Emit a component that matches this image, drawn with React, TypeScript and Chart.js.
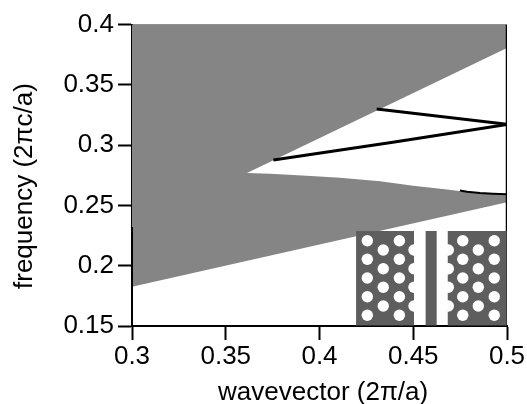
import React, { useEffect, useRef } from "react";
import { Chart, registerables } from "chart.js";

Chart.register(...registerables);

const xTicks = [0.3, 0.35, 0.4, 0.45, 0.5];
const yTicks = [0.15, 0.2, 0.25, 0.3, 0.35, 0.4];

const bandRegion = [
  { x: 0.3, y: 0.4 }, { x: 0.5, y: 0.4 }, { x: 0.5, y: 0.3805 },
  { x: 0.3613, y: 0.2769 }, { x: 0.3736, y: 0.2763 }, { x: 0.3932, y: 0.2746 },
  { x: 0.4109, y: 0.273 }, { x: 0.4323, y: 0.2701 }, { x: 0.4499, y: 0.2663 },
  { x: 0.468, y: 0.2632 }, { x: 0.4787, y: 0.2611 }, { x: 0.4856, y: 0.2601 },
  { x: 0.4925, y: 0.2596 }, { x: 0.5, y: 0.2592 }, { x: 0.5, y: 0.2526 },
  { x: 0.3, y: 0.1826 },
];

const modeA = [{ x: 0.4305, y: 0.33 }, { x: 0.5, y: 0.3172 }];
const modeB = [{ x: 0.3754, y: 0.2876 }, { x: 0.44, y: 0.3025 }, { x: 0.5, y: 0.3172 }];
const modeC = [{ x: 0.4749, y: 0.2623 }, { x: 0.4787, y: 0.2613 }, { x: 0.4856, y: 0.2603 }, { x: 0.4925, y: 0.2597 }, { x: 0.5, y: 0.2593 }];
const rightEdge = [{ x: 0.5, y: 0.15 }, { x: 0.5, y: 0.4 }];
const leftEdge = [{ x: 0.3, y: 0.15 }, { x: 0.3, y: 0.2321 }];
const topEdge = [{ x: 0.3, y: 0.4 }, { x: 0.5, y: 0.4 }];

const rect = (x0: number, x1: number, y0: number, y1: number) => [
  { x: x0, y: y0 }, { x: x1, y: y0 }, { x: x1, y: y1 }, { x: x0, y: y1 },
];
const insetLeft = rect(0.4195, 0.4504, 0.1505, 0.2288);
const insetBar = rect(0.4566, 0.4625, 0.1505, 0.2288);
const insetRight = rect(0.4684, 0.4998, 0.1505, 0.2288);

const rowsFull = [0.2207, 0.2053, 0.1898, 0.1743, 0.1589];
const rowsOffset = [0.213, 0.1975, 0.1821, 0.1666];
const colsFull = [0.4255, 0.4426, 0.4764, 0.4932];
const colsOffset = [0.434, 0.4504, 0.4687, 0.4847];
const holes = [
  ...colsFull.flatMap((x) => rowsFull.map((y) => ({ x, y }))),
  ...colsOffset.flatMap((x) => rowsOffset.map((y) => ({ x, y }))),
];

const GRAY = "#858585";
const DARK = "#5e5e5e";
const FONT = "'Liberation Sans', Arial, sans-serif";
const SIZE = 26;

const poly = (data: { x: number; y: number }[], color: string, order: number) => ({
  data, order, showLine: true, fill: "shape", backgroundColor: color,
  borderWidth: 0, pointRadius: 0,
});
const line = (data: { x: number; y: number }[], width: number, order: number, color = "#000") => ({
  data, order, showLine: true, fill: false, borderColor: color,
  borderWidth: width, pointRadius: 0,
});

export default function App() {
  const ref = useRef<HTMLCanvasElement>(null);
  useEffect(() => {
    const chart = new Chart(ref.current!, {
      type: "scatter",
      data: {
        datasets: [
          { data: holes, order: 1, backgroundColor: "#fff", borderWidth: 0, pointRadius: 5.7, clip: false },
          poly(insetLeft, DARK, 2),
          poly(insetBar, DARK, 2),
          poly(insetRight, DARK, 2),
          line(rightEdge, 2.5, 3),
          line(leftEdge, 2, 3),
          line(topEdge, 1, 3, "#444"),
          line(modeA, 3, 4),
          line(modeB, 3, 4),
          line(modeC, 2, 4),
          poly(bandRegion, GRAY, 5),
        ] as any,
      },
      options: {
        animation: false,
        responsive: false,
        layout: { padding: { top: 24.5, right: 20, left: 0, bottom: 0 } },
        plugins: { legend: { display: false }, tooltip: { enabled: false } },
        scales: {
          x: {
            type: "linear", min: 0.3, max: 0.5,
            afterBuildTicks: (s: any) => { s.ticks = xTicks.map((value) => ({ value })); },
            afterFit: (s: any) => { s.height = 78; },
            border: { color: "#000", width: 2 },
            grid: { drawOnChartArea: false, drawTicks: true, tickLength: 14, tickWidth: 2, tickColor: "#000" },
            ticks: {
              color: "#000", padding: 1, maxRotation: 0, autoSkip: false,
              font: { family: FONT, size: SIZE },
              callback: (v: any) => String(+Number(v).toFixed(2)),
            },
            title: { display: true, text: "\u00a0wavevector (2π/a)", color: "#000", font: { family: FONT, size: SIZE }, padding: { top: 0, bottom: -4 } },
          },
          y: {
            type: "linear", min: 0.15, max: 0.4,
            afterBuildTicks: (s: any) => { s.ticks = yTicks.map((value) => ({ value })); },
            afterFit: (s: any) => { s.width = 132; },
            border: { color: "#000", width: 2 },
            grid: { drawOnChartArea: false, drawTicks: true, tickLength: 14, tickWidth: 2, tickColor: "#000" },
            ticks: {
              color: "#000", padding: 4, autoSkip: false,
              font: { family: FONT, size: SIZE },
              callback: (v: any) => String(+Number(v).toFixed(2)),
            },
            title: { display: true, text: "frequency (2πc/a)\u00a0\u00a0\u00a0", color: "#000", font: { family: FONT, size: SIZE }, padding: { top: 9, bottom: 0 } },
          },
        },
      } as any,
    });
    return () => chart.destroy();
  }, []);
  return (
    <div style={{ position: "absolute", left: 0, top: 0, width: 527, height: 404, background: "#fff" }}>
      <canvas ref={ref} width={527} height={404} style={{ display: "block" }} />
    </div>
  );
}
